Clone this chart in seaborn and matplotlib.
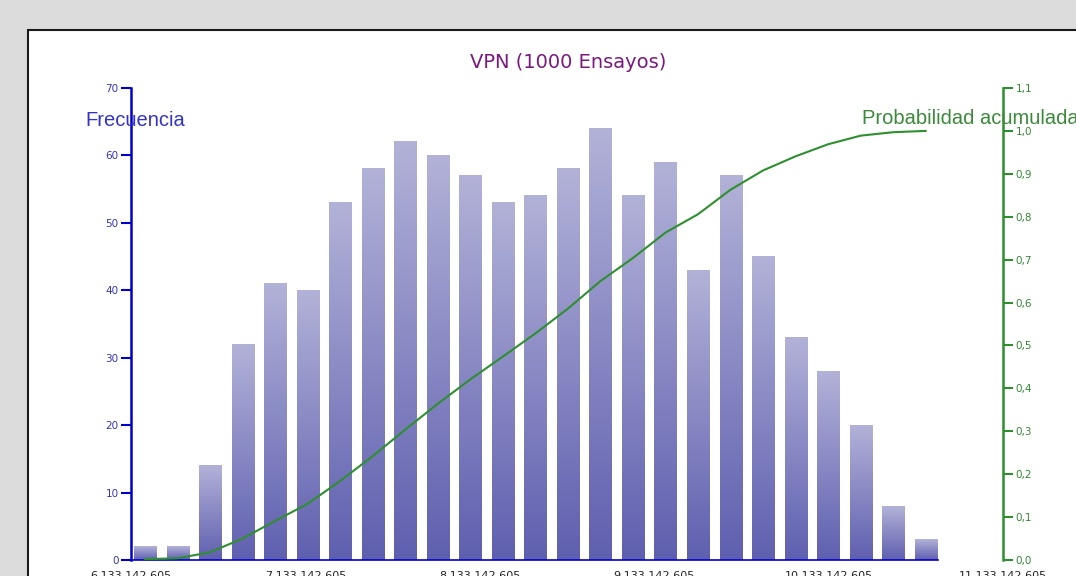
import numpy as np
import matplotlib
matplotlib.use("Agg")
import matplotlib.pyplot as plt
from matplotlib.patches import Rectangle
from matplotlib.colors import LinearSegmentedColormap
import pandas as pd
import seaborn as sns

# bin centers (VPN, in thousands of millions) and frequencies of 1000 trials
bin_centers = [6.213, 6.400, 6.586, 6.773, 6.959, 7.146, 7.332, 7.519, 7.706,
               7.892, 8.079, 8.265, 8.452, 8.639, 8.825, 9.012, 9.198, 9.385,
               9.571, 9.758, 9.945, 10.131, 10.318, 10.504, 10.691]
counts = [2, 2, 14, 32, 41, 40, 53, 58, 62, 60, 57, 53, 54, 58, 64, 54, 59,
          43, 57, 45, 33, 28, 20, 8, 3]

xtick_values = [6.133142605, 7.133142605, 8.133142605, 9.133142605,
                10.133142605, 11.133142605]
xtick_labels = ["6.133.142.605", "7.133.142.605", "8.133.142.605",
                "9.133.142.605", "10.133.142.605", "11.133.142.605"]
left_ticks = [0, 10, 20, 30, 40, 50, 60, 70]
right_ticks = [0.0, 0.1, 0.2, 0.3, 0.4, 0.5, 0.6, 0.7, 0.8, 0.9, 1.0, 1.1]
right_labels = ["0,0", "0,1", "0,2", "0,3", "0,4", "0,5", "0,6", "0,7",
                "0,8", "0,9", "1,0", "1,1"]

df = pd.DataFrame({"x": bin_centers, "freq": counts})
df["cum"] = np.cumsum(df["freq"]) / df["freq"].sum()

sns.set_style("white")
plt.rcParams["font.family"] = ["DejaVu Sans"]

blue = "#0000c8"
green = "#2f8f2f"

fig = plt.figure(figsize=(10.76, 5.76), dpi=100)
fig.patch.set_facecolor("#dcdcdc")
panel = Rectangle((28 / 1076, -0.2), 1.2, 0.2 + 1 - 30 / 576,
                  transform=fig.transFigure, facecolor="white",
                  edgecolor="#1a1a1a", linewidth=1.5, zorder=0)
fig.add_artist(panel)

ax = fig.add_axes([131 / 1076, 16 / 576, 872 / 1076, 472 / 576])
ax.set_facecolor("none")

sns.barplot(data=df, x="x", y="freq", native_scale=True, width=0.68,
            color="#8c8cc8", ax=ax, zorder=2)

# vertical gradient inside each bar: light on top, darker at the base
cmap = LinearSegmentedColormap.from_list("bars", ["#5f5fb0", "#b2b2d8"])
grad = np.linspace(0, 1, 256).reshape(-1, 1)
for p in ax.patches:
    x0, w, h = p.get_x(), p.get_width(), p.get_height()
    p.set_facecolor("none")
    p.set_edgecolor("none")
    ax.imshow(grad, extent=[x0, x0 + w, 0, h], origin="lower", aspect="auto",
              cmap=cmap, zorder=2)

ax.set_xlim(xtick_values[0], xtick_values[-1])
ax.set_ylim(0, 70)
ax.set_xticks(xtick_values)
ax.set_xticklabels(xtick_labels, fontsize=8, color="#222222")
ax.tick_params(axis="x", length=0, pad=8)
ax.set_yticks(left_ticks)
ax.set_yticklabels([str(t) for t in left_ticks], fontsize=7.5, color="#3333bb")
ax.tick_params(axis="y", direction="out", length=7, width=1.5, color=blue,
               pad=2, left=True)
ax.set_xlabel("")
ax.set_ylabel("")
for s in ["top", "right"]:
    ax.spines[s].set_visible(False)
ax.spines["left"].set_color(blue)
ax.spines["left"].set_linewidth(1.8)
ax.spines["bottom"].set_color(blue)
ax.spines["bottom"].set_linewidth(1.2)
ax.spines["bottom"].set_bounds(xtick_values[0], bin_centers[-1] + 0.07)

ax2 = ax.twinx()
sns.lineplot(data=df, x="x", y="cum", color=green, linewidth=1.5, ax=ax2,
             zorder=3)
ax2.set_xlim(xtick_values[0], xtick_values[-1])
ax2.set_ylim(0, 1.1)
ax2.set_yticks(right_ticks)
ax2.set_yticklabels(right_labels, fontsize=7.5, color="#338833")
ax2.tick_params(axis="y", direction="out", length=7, width=1.5, color=green,
                pad=2, right=True)
ax2.set_ylabel("")
ax2.set_xlabel("")
for s in ["top", "left", "bottom"]:
    ax2.spines[s].set_visible(False)
ax2.spines["right"].set_color(green)
ax2.spines["right"].set_linewidth(1.8)

fig.text(568 / 1076, 1 - 63 / 576, "VPN (1000 Ensayos)", ha="center",
         va="center", fontsize=14, color="#7a1a80")
fig.text(85 / 1076, 1 - 121 / 576, "Frecuencia", ha="left", va="center",
         fontsize=14.5, color="#3333cc", family=["Liberation Sans"])
fig.text(862 / 1076, 1 - 119 / 576, "Probabilidad acumulada", ha="left",
         va="center", fontsize=14.5, color="#3a8a3a",
         family=["Liberation Sans"])

fig.savefig("out.png", dpi=100, facecolor=fig.get_facecolor())
